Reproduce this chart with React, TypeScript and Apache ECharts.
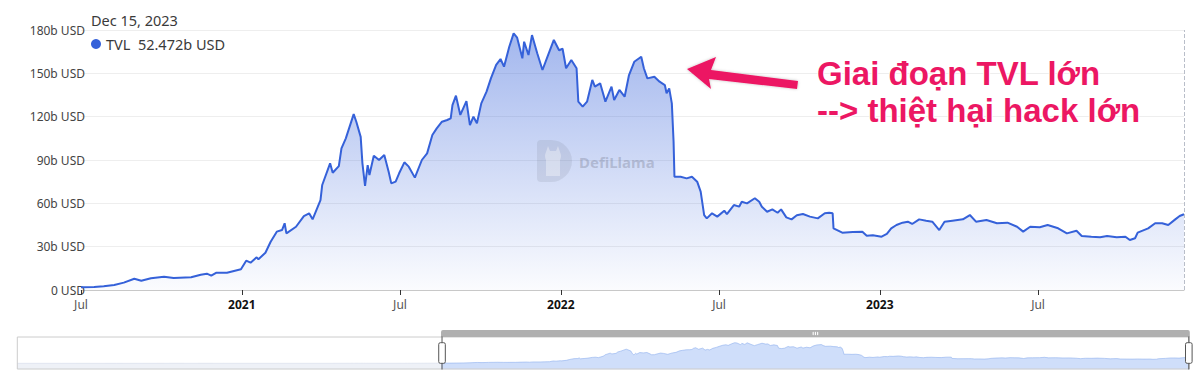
import React, { useEffect, useRef } from 'react';
import * as echarts from 'echarts';

// ---- data (b USD) ----
const earlyDates = ['2018-07-17', '2018-10-01', '2019-01-01', '2019-04-01', '2019-07-01', '2019-10-01', '2020-01-01', '2020-02-15', '2020-03-15', '2020-05-01', '2020-06-15'];
const earlyTvl = [0.4, 0.35, 0.3, 0.5, 0.6, 0.6, 0.7, 1.0, 0.6, 0.9, 1.4];

const dates2020 = ['2020-07-01', '2020-07-16', '2020-07-27', '2020-08-08', '2020-08-19', '2020-08-31', '2020-09-08', '2020-09-19', '2020-10-04', '2020-10-15', '2020-11-04', '2020-11-15', '2020-11-22', '2020-11-27', '2020-12-03', '2020-12-15', '2020-12-23', '2020-12-31'];
const tvl2020 = [1.9, 2.0, 2.6, 3.5, 5.1, 7.8, 6.4, 8.1, 9.2, 8.3, 8.8, 10.6, 11.3, 9.9, 12.0, 12.0, 13.2, 14.3];

const dates2021 = ['2021-01-06', '2021-01-11', '2021-01-18', '2021-01-20', '2021-01-28', '2021-02-03', '2021-02-10', '2021-02-16', '2021-02-19', '2021-02-21', '2021-03-04', '2021-03-13', '2021-03-19', '2021-03-23', '2021-04-01', '2021-04-03', '2021-04-12', '2021-04-15', '2021-04-22', '2021-04-25', '2021-04-30', '2021-05-09', '2021-05-12', '2021-05-17', '2021-05-19', '2021-05-22', '2021-05-25', '2021-05-27', '2021-06-01', '2021-06-07', '2021-06-13', '2021-06-18', '2021-06-21', '2021-06-26', '2021-06-30', '2021-07-06', '2021-07-11', '2021-07-18', '2021-07-26', '2021-08-01', '2021-08-07', '2021-08-12', '2021-08-18', '2021-08-24', '2021-08-28', '2021-08-30', '2021-09-03', '2021-09-08', '2021-09-15', '2021-09-19', '2021-09-23', '2021-09-27', '2021-10-02', '2021-10-08', '2021-10-13', '2021-10-19', '2021-10-24', '2021-10-28', '2021-11-03', '2021-11-08', '2021-11-12', '2021-11-18', '2021-11-20', '2021-11-25', '2021-11-29', '2021-12-05', '2021-12-11', '2021-12-16', '2021-12-24', '2021-12-30'];
const tvl2021 = [20.3, 18.9, 22.6, 21.3, 25.8, 33.4, 40.4, 41.5, 46.2, 39.2, 43.8, 51.2, 53.1, 48.9, 62.3, 72.7, 87.7, 81.2, 85.8, 98.1, 105, 121.8, 116.5, 106, 87.7, 72, 86.5, 79.6, 93, 90, 93.5, 81.9, 73.8, 75, 80.8, 88.4, 85.4, 77.8, 90, 94.6, 107.3, 111.9, 116.5, 117.7, 118.8, 128, 134.5, 121.2, 130.8, 114.2, 120, 115.4, 129.2, 137.3, 146.5, 155.8, 159.9, 154.6, 168.4, 177.7, 174.7, 160.4, 171.9, 162.7, 176.5, 163.9, 152.3, 160.4, 173.1, 166];

const dates2022 = ['2022-01-03', '2022-01-07', '2022-01-13', '2022-01-19', '2022-01-21', '2022-01-26', '2022-01-31', '2022-02-06', '2022-02-09', '2022-02-15', '2022-02-21', '2022-02-28', '2022-03-03', '2022-03-09', '2022-03-15', '2022-03-20', '2022-03-26', '2022-04-03', '2022-04-06', '2022-04-10', '2022-04-18', '2022-04-24', '2022-04-30', '2022-05-02', '2022-05-05', '2022-05-08', '2022-05-10', '2022-05-11', '2022-05-18', '2022-05-25', '2022-05-31', '2022-06-06', '2022-06-10', '2022-06-14', '2022-06-17', '2022-06-23', '2022-06-29', '2022-07-07', '2022-07-10', '2022-07-18', '2022-07-24', '2022-07-27', '2022-08-02', '2022-08-11', '2022-08-16', '2022-08-19', '2022-08-25', '2022-08-31', '2022-09-06', '2022-09-10', '2022-09-16', '2022-09-22', '2022-09-28', '2022-10-05', '2022-10-13', '2022-10-22', '2022-10-30', '2022-11-04', '2022-11-08', '2022-11-09', '2022-11-19', '2022-12-01', '2022-12-12', '2022-12-17', '2022-12-24'];
const tvl2022 = [167, 153.5, 159.2, 153.5, 130.4, 126.9, 130.4, 145.4, 140.8, 143.1, 130.4, 140.8, 131.5, 138.5, 133.8, 148.8, 158, 161.5, 153.5, 146.5, 147.7, 144.2, 141.9, 136.2, 139.6, 129.2, 102.7, 78.4, 78.4, 77.3, 78.4, 75, 68.1, 51.9, 49.6, 53.1, 50.8, 54.9, 52.6, 58.8, 57.7, 61.1, 60, 63.5, 61.1, 57.7, 54.2, 55.8, 53.5, 55.8, 50.3, 48.9, 51.7, 52.6, 50.8, 49.6, 53.1, 53.5, 53.1, 42.7, 39.7, 40.2, 40.4, 37.6, 37.9];

const dates2023 = ['2023-01-03', '2023-01-09', '2023-01-14', '2023-01-20', '2023-01-27', '2023-02-02', '2023-02-07', '2023-02-15', '2023-02-23', '2023-03-02', '2023-03-10', '2023-03-16', '2023-03-25', '2023-04-06', '2023-04-14', '2023-04-21', '2023-05-03', '2023-05-15', '2023-05-27', '2023-06-07', '2023-06-14', '2023-06-22', '2023-07-03', '2023-07-12', '2023-07-24', '2023-08-03', '2023-08-14', '2023-08-20', '2023-08-31', '2023-09-10', '2023-09-18', '2023-09-29', '2023-10-09', '2023-10-14', '2023-10-20', '2023-10-23', '2023-11-04', '2023-11-12', '2023-11-20', '2023-11-27', '2023-12-05', '2023-12-10', '2023-12-15'];
const tvl2023 = [36.9, 38.8, 42.7, 45, 46.6, 47.3, 45.7, 48.9, 48, 47.3, 41.5, 47.3, 48, 48.9, 51.9, 47.3, 48.5, 46.2, 46.6, 43.8, 40.4, 43.8, 43.4, 45, 42.7, 39.2, 41, 37.4, 36.9, 36.5, 37.4, 36.5, 36.9, 34.6, 35.8, 39.7, 42.7, 46.2, 46.2, 45, 48.9, 51.2, 52.472];

const yTickValues = [0, 30, 60, 90, 120, 150, 180];
const monthNames = ['Jan', 'Feb', 'Mar', 'Apr', 'May', 'Jun', 'Jul', 'Aug', 'Sep', 'Oct', 'Nov', 'Dec'];
const seriesName = 'TVL';
const headerDate = 'Dec 15, 2023';
const windowStart = '2020-07-01';
const annotationLines = ['Giai đoạn TVL lớn', '--> thiệt hại hack lớn'];
const watermarkText = 'DefiLlama';

const LINE_COLOR = '#3561d9';
const FONT = '"Noto Sans", "Open Sans", sans-serif';

echarts.graphic.registerShape(
  'llamaD',
  echarts.graphic.extendPath('M0 4 Q0 0 4 0 L14 0 A21 21 0 0 1 14 42 L4 42 Q0 42 0 38 Z', {})
);
echarts.graphic.registerShape(
  'llamaHead',
  echarts.graphic.extendPath('M9 12 L11 6 L13 11 L19 11 L21 6 L23 12 Q25 16 23 20 L23 36 L9 36 L9 20 Q7 16 9 12 Z', {})
);

export default function App() {
  const ref = useRef<HTMLDivElement>(null);
  useEffect(() => {
    if (!ref.current) return;
    const chart = echarts.init(ref.current, null, { renderer: 'svg' });
    const allDates = [...earlyDates, ...dates2020, ...dates2021, ...dates2022, ...dates2023];
    const allTvl = [...earlyTvl, ...tvl2020, ...tvl2021, ...tvl2022, ...tvl2023];
    const data = allDates.map((d, i) => [d, allTvl[i]]);
    const lastDate = allDates[allDates.length - 1];
    const lastVal = allTvl[allTvl.length - 1];

    chart.setOption({
      animation: false,
      textStyle: { fontFamily: FONT },
      grid: { left: 81, right: 15, top: 30, bottom: 91 },
      xAxis: {
        type: 'time',
        splitNumber: 7,
        axisLine: { lineStyle: { color: '#c8c8c8' } },
        axisTick: { show: true, length: 5, lineStyle: { color: '#333' } },
        axisLabel: {
          fontSize: 12,
          color: '#555',
          formatter: (v: number) => {
            const d = new Date(v);
            if (d.getMonth() === 0) return '{y|' + d.getFullYear() + '}';
            return monthNames[d.getMonth()];
          },
          rich: { y: { fontWeight: 'bold', color: '#111', fontSize: 12, fontFamily: FONT } },
        },
        splitLine: { show: false },
      },
      yAxis: {
        type: 'value',
        min: yTickValues[0],
        max: yTickValues[yTickValues.length - 1],
        interval: yTickValues[1] - yTickValues[0],
        axisLine: { show: false },
        axisTick: { show: false },
        axisLabel: {
          margin: -4,
          fontSize: 12,
          color: '#444',
          formatter: (v: number) => (v === 0 ? '0 USD' : v + 'b USD'),
        },
        splitLine: { lineStyle: { color: '#eeeeee' } },
      },
      dataZoom: [
        {
          type: 'slider',
          xAxisIndex: 0,
          startValue: windowStart,
          endValue: lastDate,
          left: 14,
          right: 12,
          top: 330,
          height: 33,
          showDetail: false,
          brushSelect: true,
          borderColor: '#cccccc',
          backgroundColor: 'rgba(0,0,0,0)',
          fillerColor: 'rgba(255,255,255,0)',
          dataBackground: {
            lineStyle: { color: '#cfd6e6', width: 0.5 },
            areaStyle: { color: '#eef1f7', opacity: 1 },
          },
          selectedDataBackground: {
            lineStyle: { color: '#8fb0ee', width: 0.6 },
            areaStyle: { color: '#cfdefa', opacity: 1 },
          },
          handleStyle: { color: '#fff', borderColor: '#555' },
          moveHandleSize: 7,
          moveHandleStyle: { color: '#b0b0b0', opacity: 1 },
        },
      ],
      series: [
        {
          name: seriesName,
          type: 'line',
          data,
          symbol: 'none',
          lineStyle: { color: LINE_COLOR, width: 2 },
          itemStyle: { color: LINE_COLOR },
          areaStyle: {
            color: new echarts.graphic.LinearGradient(0, 0, 0, 1, [
              { offset: 0, color: 'rgba(53,97,217,0.65)' },
              { offset: 1, color: 'rgba(53,97,217,0.03)' },
            ]),
          },
          markLine: {
            silent: true,
            symbol: 'none',
            label: { show: false },
            lineStyle: { color: '#b9bec9', type: 'dashed', width: 1 },
            data: [{ xAxis: lastDate }],
          },
        },
      ],
      graphic: [
        {
          type: 'text',
          x: 91,
          y: 20,
          z: 50,
          style: { text: headerDate, fill: '#3a3a3a', font: '14.5px ' + FONT, verticalAlign: 'middle' },
        },
        { type: 'circle', z: 50, shape: { cx: 96, cy: 44, r: 5 }, style: { fill: LINE_COLOR } },
        {
          type: 'text',
          x: 106,
          y: 44,
          z: 50,
          style: {
            text: seriesName + '  ' + lastVal + 'b USD',
            fill: '#3a3a3a',
            font: '14.5px ' + FONT,
            verticalAlign: 'middle',
          },
        },
        {
          type: 'llamaD',
          x: 537,
          y: 140,
          z: 40,
          style: { fill: 'rgba(120,125,145,0.16)' },
        },
        {
          type: 'llamaHead',
          x: 537,
          y: 140,
          z: 41,
          style: { fill: 'rgba(255,255,255,0.35)' },
        },
        {
          type: 'text',
          x: 579,
          y: 162,
          z: 40,
          style: {
            text: watermarkText,
            fill: 'rgba(110,115,135,0.33)',
            font: 'bold 15px ' + FONT,
            verticalAlign: 'middle',
          },
        },
        {
          type: 'polygon',
          z: 60,
          shape: {
            points: [
              [687, 69],
              [716, 57],
              [711, 70],
              [798, 81],
              [797, 89],
              [709, 79],
              [711, 89],
            ],
          },
          style: { fill: '#ec1763', shadowBlur: 3, shadowColor: 'rgba(0,0,0,0.25)' },
        },
        {
          type: 'text',
          x: 817,
          y: 73,
          z: 60,
          style: {
            text: annotationLines[0],
            fill: '#ec1763',
            font: 'bold 33px "Liberation Sans", Arial, sans-serif',
            verticalAlign: 'middle',
            stroke: '#ffffff',
            lineWidth: 2,
            shadowBlur: 3,
            shadowColor: 'rgba(0,0,0,0.25)',
          },
        },
        {
          type: 'text',
          x: 817,
          y: 110,
          z: 60,
          style: {
            text: annotationLines[1],
            fill: '#ec1763',
            font: 'bold 33px "Liberation Sans", Arial, sans-serif',
            verticalAlign: 'middle',
            stroke: '#ffffff',
            lineWidth: 2,
            shadowBlur: 3,
            shadowColor: 'rgba(0,0,0,0.25)',
          },
        },
      ],
    });
    return () => chart.dispose();
  }, []);
  return (
    <div
      ref={ref}
      style={{ position: 'fixed', left: 0, top: 0, width: 1199, height: 381, background: '#fff' }}
    />
  );
}
